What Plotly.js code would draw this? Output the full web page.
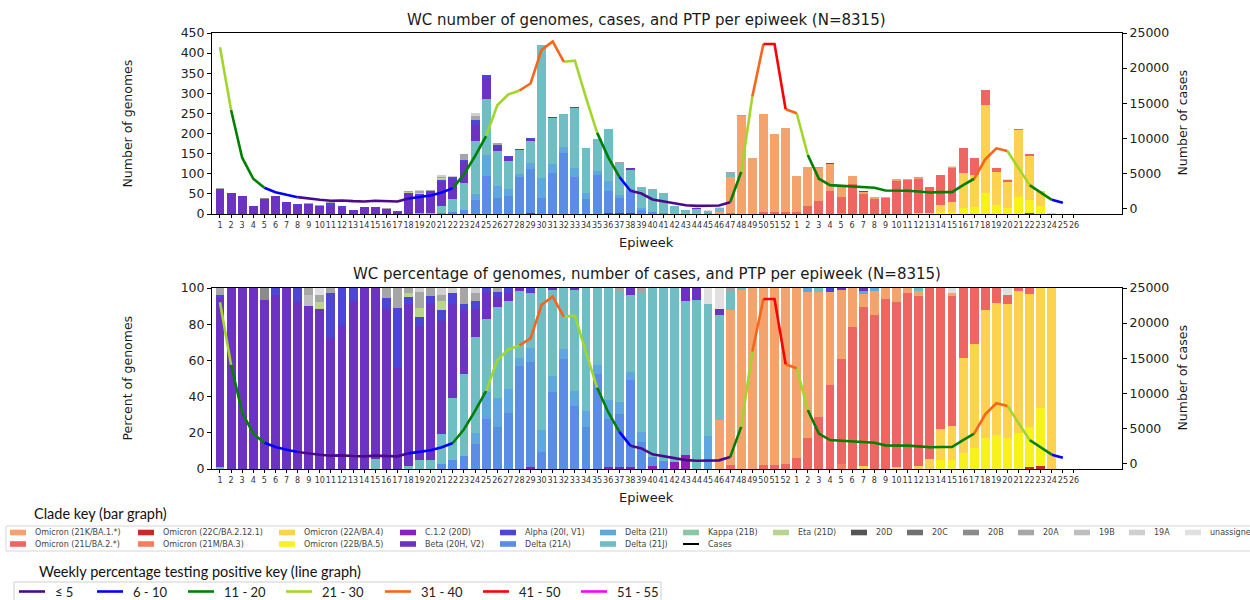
<!DOCTYPE html>
<html><head><meta charset="utf-8">
<script src="https://cdn.plot.ly/plotly-3.0.1.min.js"></script>
<style>html,body{margin:0;padding:0;background:#fff}#chart{width:1250px;height:600px}</style>
</head><body><div id="chart"></div>
<script>
// ---------------- DATA ----------------
const epiweekLabels = ['1','2','3','4','5','6','7','8','9','10','11','12','13','14','15','16','17','18','19','20','21','22','23','24','25','26',
  '27','28','29','30','31','32','33','34','35','36','37','38','39','40','41','42','43','44','45','46','47','48','49','50','51','52',
  '1','2','3','4','5','6','7','8','9','10','11','12','13','14','15','16','17','18','19','20','21','22','23','24','25','26'];

// total sequenced genomes per epiweek
const genomesYear1 = [64,53,46,19,41,46,31,24,27,22,29,19,11,17,17,14,7,56,59,60,96,95,148,250,345,176,
  143,162,188,420,240,249,266,165,186,211,130,114,68,61,51,21,11,14,9,18,104,246,138,249,200,215];
const genomesYear2 = [94,118,116,126,71,95,56,43,43,88,87,91,68,97,120,165,139,308,114,88,212,148,56,2,0,0];

// clade share of genomes per epiweek (%), year 1 weeks 1-52 then year 2 weeks 1-26
const pct21K = [0,0,0,0,0,0,0,0,0,0,0,0,0, 0,0,0,0,0,0,0,0,0,0,0,0,0, 0,0,0,0,0,0,0,0,0,0,0,0,0, 0,0,0,0,0,0,27,86,99,100,98,97.8,97.2,
  94,81,69.3,51.8,38.2,21.5,7.4,13.2,6.2,7.7,3,2.6,0, 0,1.8,0,0,0,0,0,0,0,0,0,0,0];
const pct21L = [0,0,0,0,0,0,0,0,0,0,0,0,0, 0,0,0,0,0,0,0,0,0,0,0,0,0, 0,0,0,0,0,0,0,0,0,0,0,0,0, 0,0,0,0,0,0,0,2,0,0,2,2.2,2.8,
  6,17,28.7,46.2,57.9,78.5,87.7,85,93.8,91,97,93.8,94.5, 78,71.7,38.6,30.7,12.3,8.1,4.6,1.8,3.1,0,0,0,0];
const pct22C = [0,0,0,0,0,0,0,0,0,0,0,0,0, 0,0,0,0,0,0,0,0,0,0,0,0,0, 0,0,0,0,0,0,0,0,0,0,0,0,0, 0,0,0,0,0,0,0,0,0,0,0,0,0,
  0,0,0,0,0,0,0,0,0,0,0,0,0, 0,0,0,0,0,0,0,0,1.3,1.8,0,0,0];
const pct21M = [0,0,0,0,0,0,0,0,0,0,0,0,0, 0,0,0,0,0,0,0,0,0,0,0,0,0, 0,0,0,0,0,0,0,0,0,0,0,0,0, 0,0,0,0,0,0,0,0,0,0,0,0,0,
  0,0,0,0,2.6,0,0,0,0,0,0,0,0, 0,0,0,0,0,0,0,0,0,0,0,0,0];
const pct22A = [0,0,0,0,0,0,0,0,0,0,0,0,0, 0,0,0,0,0,0,0,0,0,0,0,0,0, 0,0,0,0,0,0,0,0,0,0,0,0,0, 0,0,0,0,0,0,0,0,0,0,0,0,0,
  0,0,0,0,0,0,1.8,0,0,1.3,0,1.8,5.5, 17,19,52.8,57.5,70.4,73.1,74.1,78.5,73.5,66.2,100,0,0];
const pct22B = [0,0,0,0,0,0,0,0,0,0,0,0,0, 0,0,0,0,0,0,0,0,0,0,0,0,0, 0,0,0,0,0,0,0,0,0,0,0,0,0, 0,0,0,0,0,0,0,0,0,0,0,0,0,
  0,0,0,0,0,0,0,0,0,0,0,0,0, 5,5,8.6,11.8,17.3,18.8,17.3,19.7,22.1,32,0,0,0];
const pctC12 = [0,0,0,0,0,0,0,0,0,0,0,0,0, 0,0,0,0,0,0,0,0,0,0,0,0,0, 0,0,1,0,0,0,0,0,0,1.3,1.3,1.3,0, 1.8,0,4,8,0,0,0,0,0,0,0,0,0,
  0,0,0,0,0,0,0,0,0,0,0,0,0, 0,0,0,0,0,0,0,0,0,0,0,0,0];
const pctBeta = [93.2,100,100,100,93.5,96,100,92.3,89.9,88.6,72.6,79,93, 100,94.5,88.5,56,89.5,74,87,62,52,35,15.4,15,5.5,
  4,1.4,1,0,1,0,1.3,0,0,0,0,4,0, 0,0,0,7.4,6.4,0,3.7,0,0,0,0,0,0,
  0,0,0,0,1.3,0,1.8,0,0,0,0,0,0, 0,0,0,0,0,0,0,0,0,0,0,0,0];
const pctAlpha = [1.5,0,0,0,0,4,0,7.7,0,0,24.4,21,7, 0,0,6,33,3.7,5,3.7,6,6,3.7,4.6,2,3,
  3,0,2,0,0,0,0,0,0,0,0,0,0, 0,0,0,0,0,0,0,0,0,0,0,0,0,
  0,0,0,2,0,0,0,0,0,0,0,0,0, 0,0,0,0,0,0,0,0,0,0,0,0,0];
const pct21A = [0,0,0,0,0,0,0,0,0,0,0,0,0, 0,0,0,0,0,0,0,3,5,7.4,14,27.5,23,
  31,57,58,9.2,42.4,60.5,35,23.3,52.7,26.2,29.3,47.8,14.8, 5,4.4,0,0,0,0,0,0,0,0,0,0,0,
  0,0,0,0,0,0,0,0,0,0,0,0,0, 0,0,0,0,0,0,0,0,0,0,0,0,0];
const pct21I = [0,0,0,0,0,0,0,0,0,0,0,0,0, 0,0,0,0,0,0,0,0,0,0,6,15,16.5,
  13,4.6,8,12.3,9,6,8,8.7,5,10.9,6.4,4.6,5.5, 0,0,0,0,0,18,0,0,0,0,0,0,0,
  0,2,0,0,0,0,1.3,1.8,0,0,0,0,0, 0,0,0,0,0,0,0,0,0,0,0,0,0];
const pct21J = [1.3,0,0,0,0,0,0,0,0,0,0,0,0, 0,5.5,0,0,1.8,5,4.9,16.6,34,45.3,53,40.5,50,
  49,37,30,78.5,47.6,33.5,55.7,68,42.3,61.6,61,42.3,77.2, 93.2,95.6,96,84.6,93.6,73.4,57.9,10,1,0,0,0,0,
  0,0,2,0,0,0,0,0,0,0,0,1.8,0, 0,0,0,0,0,0,0,0,0,0,0,0,0];
const pctKappa = [0,0,0,0,0,0,0,0,0,0,0,0,0, 0,0,0,0,0,0,0,0,0,0,0,0,0, 0,0,0,0,0,0,0,0,0,0,0,0,0, 0,0,0,0,0,0,0,0,0,0,0,0,0,
  0,0,0,0,0,0,0,0,0,0,0,0,0, 0,0,0,0,0,0,0,0,0,0,0,0,0];
const pctEta = [0,0,0,0,0,0,0,0,0,3.7,0,0,0, 0,0,0,0,2,5,0,5,0,0,0,0,0, 0,0,0,0,0,0,0,0,0,0,0,0,0, 0,0,0,0,0,0,0,0,0,0,0,0,0,
  0,0,0,0,0,0,0,0,0,0,0,0,0, 0,0,0,0,0,0,0,0,0,0,0,0,0];
const pct20D = [0,0,0,0,0,0,0,0,0,0,0,0,0, 0,0,0,0,0,0,0,0,0,0,0,0,0, 0,0,0,0,0,0,0,0,0,0,0,0,0, 0,0,0,0,0,0,0,0,0,0,0,0,0,
  0,0,0,0,0,0,0,0,0,0,0,0,0, 0,0,0,0,0,0,0,0,0,0,0,0,0];
const pct20C = [0,0,0,0,0,0,0,0,0,0,0,0,0, 0,0,0,0,0,0,0,0,0,0,0,0,0, 0,0,0,0,0,0,0,0,0,0,0,0,0, 0,0,0,0,0,0,0,0,0,0,0,0,0,
  0,0,0,0,0,0,0,0,0,0,0,0,0, 0,0,0,0,0,0,0,0,0,0,0,0,0];
const pct20B = [0,0,0,0,6.5,0,0,0,0,0,0,0,0, 0,0,0,0,0,0,0,0,0,0,0,0,0, 0,0,0,0,0,0,0,0,0,0,0,0,0, 0,0,0,0,0,0,0,0,0,0,0,0,0,
  0,0,0,0,0,0,0,0,0,0,0,0,0, 0,0,0,0,0,0,0,0,0,0,0,0,0];
const pct20A = [4,0,0,0,0,0,0,0,3.7,4,3,0,0, 0,0,5.5,11,3,9,4.4,3.4,0,8.6,4,0,2,
  0,0,0,0,0,0,0,0,0,0,2,0,2.5, 0,0,0,0,0,0,0,2,0,0,0,0,0,
  0,0,0,0,0,0,0,0,0,0,0,0,0, 0,0,0,0,0,0,0,0,0,0,0,0,0];
const pct19B = [0,0,0,0,0,0,0,0,6.4,0,0,0,0, 0,0,0,0,0,0,0,0,0,0,0,0,0, 0,0,0,0,0,0,0,0,0,0,0,0,0, 0,0,0,0,0,0,0,0,0,0,0,0,0,
  0,0,0,0,0,0,0,0,0,0,0,0,0, 0,0,0,0,0,0,0,0,0,0,0,0,0];
const pct19A = [0,0,0,0,0,0,0,0,0,0,0,0,0, 0,0,0,0,0,2,0,4,3,0,3,0,0, 0,0,0,0,0,0,0,0,0,0,0,0,0, 0,0,0,0,0,0,0,0,0,0,0,0,0,
  0,0,0,0,0,0,0,0,0,0,0,0,0, 0,0,0,0,0,0,0,0,0,0,0,0,0];
const pctUnassigned = [0,0,0,0,0,0,0,0,0,3.7,0,0,0, 0,0,0,0,0,0,0,0,0,0,0,0,0, 0,0,0,0,0,0,0,0,0,0,0,0,0, 0,0,0,0,0,8.6,11.4,0,0,0,0,0,0,
  0,0,0,0,0,0,0,0,0,0,0,0,0, 0,2.5,0,0,0,0,4,0,0,0,0,0,0];

// weekly cases (one point per epiweek, year 1 weeks 1-52, year 2 weeks 1-25)
const casesYear1 = [22960,14040,7240,4240,2950,2330,1950,1620,1380,1240,1100,1140,1050,1000,1100,1000,1000,1430,1670,1860,2290,2900,4860,7480,10330,14710,
  16240,16810,17810,22600,23810,20900,21050,15810,10810,7330,4530,2530,2140,1290,1000,710,470,380,380,430,900,5240,15950,23430,23430,14140];
const casesYear2 = [13570,7620,4240,3330,3240,3190,3100,2950,2570,2570,2530,2430,2290,2330,2330,3330,4240,7000,8570,8190,5710,3330,2330,1240,810];

// weekly percentage testing positive band (index into ptpBands) from each week to the next
const ptpBands = ['\u2264 5','6 - 10','11 - 20','21 - 30','31 - 40','41 - 50','51 - 55'];
const ptpYear1 = [3, 2,2,2, 1,1,1, 0,0,0,0,0,0,0,0,0,0, 1,1,1,1, 2,2,2, 3,3,3, 4,4,4,4, 3,3,3, 2,2, 1, 0,0,0,0,0,0,0,0,0, 2, 3, 4, 5,5, 4];
const ptpYear2 = [3, 2,2,2,2,2,2,2,2,2,2,2,2,2,2,2, 4,4,4, 3,3, 2,2, 1,1];

const cladeNames = ['Omicron (21K/BA.1.*)','Omicron (21L/BA.2.*)','Omicron (22C/BA.2.12.1)','Omicron (21M/BA.3)','Omicron (22A/BA.4)',
  'Omicron (22B/BA.5)','C.1.2 (20D)','Beta (20H, V2)','Alpha (20I, V1)','Delta (21A)','Delta (21I)','Delta (21J)','Kappa (21B)','Eta (21D)',
  '20D','20C','20B','20A','19B','19A','unassigned'];

// ---------------- STYLE ----------------
const cladeColors = {
  'Omicron (21K/BA.1.*)':'#F5A36C','Omicron (21L/BA.2.*)':'#EE6562','Omicron (22C/BA.2.12.1)':'#C62A2A','Omicron (21M/BA.3)':'#F47E5E',
  'Omicron (22A/BA.4)':'#FDD24F','Omicron (22B/BA.5)':'#F8F21C','C.1.2 (20D)':'#8A20B6','Beta (20H, V2)':'#6C33C3','Alpha (20I, V1)':'#4D45D5',
  'Delta (21A)':'#5A8EE6','Delta (21I)':'#5EA8DF','Delta (21J)':'#6EBEC4','Kappa (21B)':'#8AC7A6','Eta (21D)':'#B7D58F',
  '20D':'#555555','20C':'#707070','20B':'#8B8B8B','20A':'#A6A6A6','19B':'#BEBEBE','19A':'#CFCFCF','unassigned':'#E0E0E0'};
const ptpColors = ['#4B0A8C','#0000FF','#008000','#A2D62C','#F5661A','#FF0000','#FF00FF'];

const cladePct = {
  'Omicron (21K/BA.1.*)':pct21K,'Omicron (21L/BA.2.*)':pct21L,'Omicron (22C/BA.2.12.1)':pct22C,'Omicron (21M/BA.3)':pct21M,
  'Omicron (22A/BA.4)':pct22A,'Omicron (22B/BA.5)':pct22B,'C.1.2 (20D)':pctC12,'Beta (20H, V2)':pctBeta,'Alpha (20I, V1)':pctAlpha,
  'Delta (21A)':pct21A,'Delta (21I)':pct21I,'Delta (21J)':pct21J,'Kappa (21B)':pctKappa,'Eta (21D)':pctEta,
  '20D':pct20D,'20C':pct20C,'20B':pct20B,'20A':pct20A,'19B':pct19B,'19A':pct19A,'unassigned':pctUnassigned};
// stacking order, bottom to top, as drawn in the figure
const stackOrder = ['Omicron (22C/BA.2.12.1)','Omicron (22B/BA.5)','Omicron (22A/BA.4)','Omicron (21M/BA.3)','Omicron (21L/BA.2.*)',
  'Omicron (21K/BA.1.*)','C.1.2 (20D)','Delta (21A)','Delta (21I)','Delta (21J)','Kappa (21B)','Beta (20H, V2)','Alpha (20I, V1)',
  'Eta (21D)','20D','20C','19B','20B','20A','19A','unassigned'];

const genomes = genomesYear1.concat(genomesYear2);
const cases = casesYear1.concat(casesYear2);
const ptp = ptpYear1.concat(ptpYear2);
const xIdx = epiweekLabels.map((_, i) => i);

const W = 1250, H = 600;
const px = x => x / W, py = y => 1 - y / H;
const FONT = 'DejaVu Sans';

// ---------------- TRACES ----------------
const traces = [];
stackOrder.forEach(name => {
  const pct = cladePct[name];
  traces.push({type:'bar', x:xIdx, y:pct.map((p, i) => genomes[i] * p / 100), xaxis:'x', yaxis:'y',
    width:0.8, marker:{color:cladeColors[name], line:{width:0}}, name:name, showlegend:false, hoverinfo:'skip'});
  traces.push({type:'bar', x:xIdx, y:pct, xaxis:'x2', yaxis:'y3',
    width:0.8, marker:{color:cladeColors[name], line:{width:0}}, name:name, showlegend:false, hoverinfo:'skip'});
});

function bandLine(b) {
  const xs = [], ys = [];
  for (let i = 0; i < cases.length - 1; i++) {
    if (ptp[i] !== b) continue;
    if (i === 0 || ptp[i - 1] !== b) { xs.push(xIdx[i]); ys.push(cases[i]); }
    xs.push(xIdx[i + 1]); ys.push(cases[i + 1]);
    if (ptp[i + 1] !== b || i + 1 === cases.length - 1) { xs.push(null); ys.push(null); }
  }
  return {xs, ys};
}
ptpBands.forEach((band, b) => {
  const {xs, ys} = bandLine(b);
  if (!xs.length) return;
  [['x','y2'],['x2','y4']].forEach(([xa, ya]) => {
    traces.push({type:'scatter', mode:'lines', x:xs, y:ys, xaxis:xa, yaxis:ya, connectgaps:false,
      line:{color:ptpColors[b], width:2.6}, showlegend:false, hoverinfo:'skip'});
  });
});

// ---------------- LAYOUT ----------------
const plotL = 212, plotR = 1122, top1 = 33, bot1 = 214, top2 = 288, bot2 = 469;
const xRange = [-0.72, 81.33];
const base = {showline:true, linecolor:'#000', linewidth:1, ticks:'outside', ticklen:4, tickwidth:1, tickcolor:'#000',
  showgrid:false, zeroline:false, tickfont:{family:FONT, size:12.5, color:'#222'}, automargin:false};
const xBase = Object.assign({}, base, {domain:[px(plotL), px(plotR)], range:xRange, tickmode:'array', tickvals:xIdx,
  ticktext:epiweekLabels, tickangle:0, mirror:true, tickfont:{family:FONT, size:8, color:'#333'}, ticklen:3});

const annotations = [];
const ann = (text, x, y, size, extra) => annotations.push(Object.assign({text, x:px(x), y:py(y), xref:'paper', yref:'paper',
  showarrow:false, xanchor:'center', yanchor:'middle', font:{family:FONT, size, color:'#1a1a1a'}}, extra || {}));
ann('WC number of genomes, cases, and PTP per epiweek (N=8315)', 647, 20, 15);
ann('WC percentage of genomes, number of cases, and PTP per epiweek (N=8315)', 647, 274, 15);
ann('Epiweek', 647, 242, 13);
ann('Epiweek', 647, 497, 13);
ann('Number of genomes', 127, 123.5, 12.5, {textangle:-90});
ann('Percent of genomes', 127, 378.5, 12.5, {textangle:-90});
ann('Number of cases', 1182, 123.5, 12.5, {textangle:-90});
ann('Number of cases', 1182, 378.5, 12.5, {textangle:-90});

// legend keys (drawn as shapes + text)
const shapes = [];
const LFONT = 'Lato';
ann('Clade key (bar graph)', 32, 513, 14.5, {xanchor:'left', font:{family:LFONT, size:14.5, color:'#111'}});
ann('Weekly percentage testing positive key (line graph)', 37, 571, 14.5, {xanchor:'left', font:{family:LFONT, size:14.5, color:'#111'}});
shapes.push({type:'rect', xref:'paper', yref:'paper', x0:px(6), x1:px(1252), y0:py(526), y1:py(551),
  line:{color:'#d6d6d6', width:1}, fillcolor:'#fff', layer:'below'});
shapes.push({type:'rect', xref:'paper', yref:'paper', x0:px(14), x1:px(661), y0:py(582), y1:py(603),
  line:{color:'#cfcfcf', width:1}, fillcolor:'#fff', layer:'below'});

const legendTextX = [33,161,302,423,523,623,706,796,874,930,986,1041,1097,1152,1208];
const legendRowsY = [532.5, 544];
const legendGrid = [[0,1],[2,3],[4,5],[6,7],[8,9],[10,11],[12,'Cases'],[13],[14],[15],[16],[17],[18],[19],[20]];
legendGrid.forEach((col, c) => {
  col.forEach((item, r) => {
    const tx = legendTextX[c], ty = legendRowsY[r];
    if (item === 'Cases') {
      shapes.push({type:'line', xref:'paper', yref:'paper', x0:px(tx - 23), x1:px(tx - 7), y0:py(ty), y1:py(ty), line:{color:'#000', width:2}});
      ann('Cases', tx, ty, 8, {xanchor:'left', font:{family:FONT, size:8, color:'#444'}});
    } else {
      const name = cladeNames[item];
      shapes.push({type:'rect', xref:'paper', yref:'paper', x0:px(tx - 23), x1:px(tx - 7), y0:py(ty + 2.8), y1:py(ty - 2.8),
        line:{width:0}, fillcolor:cladeColors[name]});
      ann(name, tx, ty, 8, {xanchor:'left', font:{family:FONT, size:8, color:'#444'}});
    }
  });
});
const ptpLineX = [19,97,188,286,385,483,581];
const ptpLegendY = 591.5;
ptpBands.forEach((band, b) => {
  shapes.push({type:'line', xref:'paper', yref:'paper', x0:px(ptpLineX[b]), x1:px(ptpLineX[b] + 26), y0:py(ptpLegendY), y1:py(ptpLegendY),
    line:{color:ptpColors[b], width:2.6}});
  ann(band, ptpLineX[b] + 34, ptpLegendY, 13, {xanchor:'left', font:{family:LFONT, size:13, color:'#222'}});
});

const layout = {
  width:W, height:H, margin:{l:0, r:0, t:0, b:0}, paper_bgcolor:'#fff', plot_bgcolor:'#fff',
  barmode:'stack', showlegend:false, hovermode:false,
  xaxis: Object.assign({}, xBase, {anchor:'y'}),
  yaxis: Object.assign({}, base, {domain:[py(bot1), py(top1)], anchor:'x', range:[0, 450], tick0:0, dtick:50}),
  yaxis2: Object.assign({}, base, {overlaying:'y', side:'right', anchor:'x', range:[-780, 25000], tick0:0, dtick:5000, tickformat:'d'}),
  xaxis2: Object.assign({}, xBase, {anchor:'y3'}),
  yaxis3: Object.assign({}, base, {domain:[py(bot2), py(top2)], anchor:'x2', range:[0, 100], tick0:0, dtick:20}),
  yaxis4: Object.assign({}, base, {overlaying:'y3', side:'right', anchor:'x2', range:[-800, 25000], tick0:0, dtick:5000, tickformat:'d'}),
  annotations, shapes
};

Plotly.newPlot('chart', traces, layout, {staticPlot:true, displayModeBar:false});
</script>
</body></html>
